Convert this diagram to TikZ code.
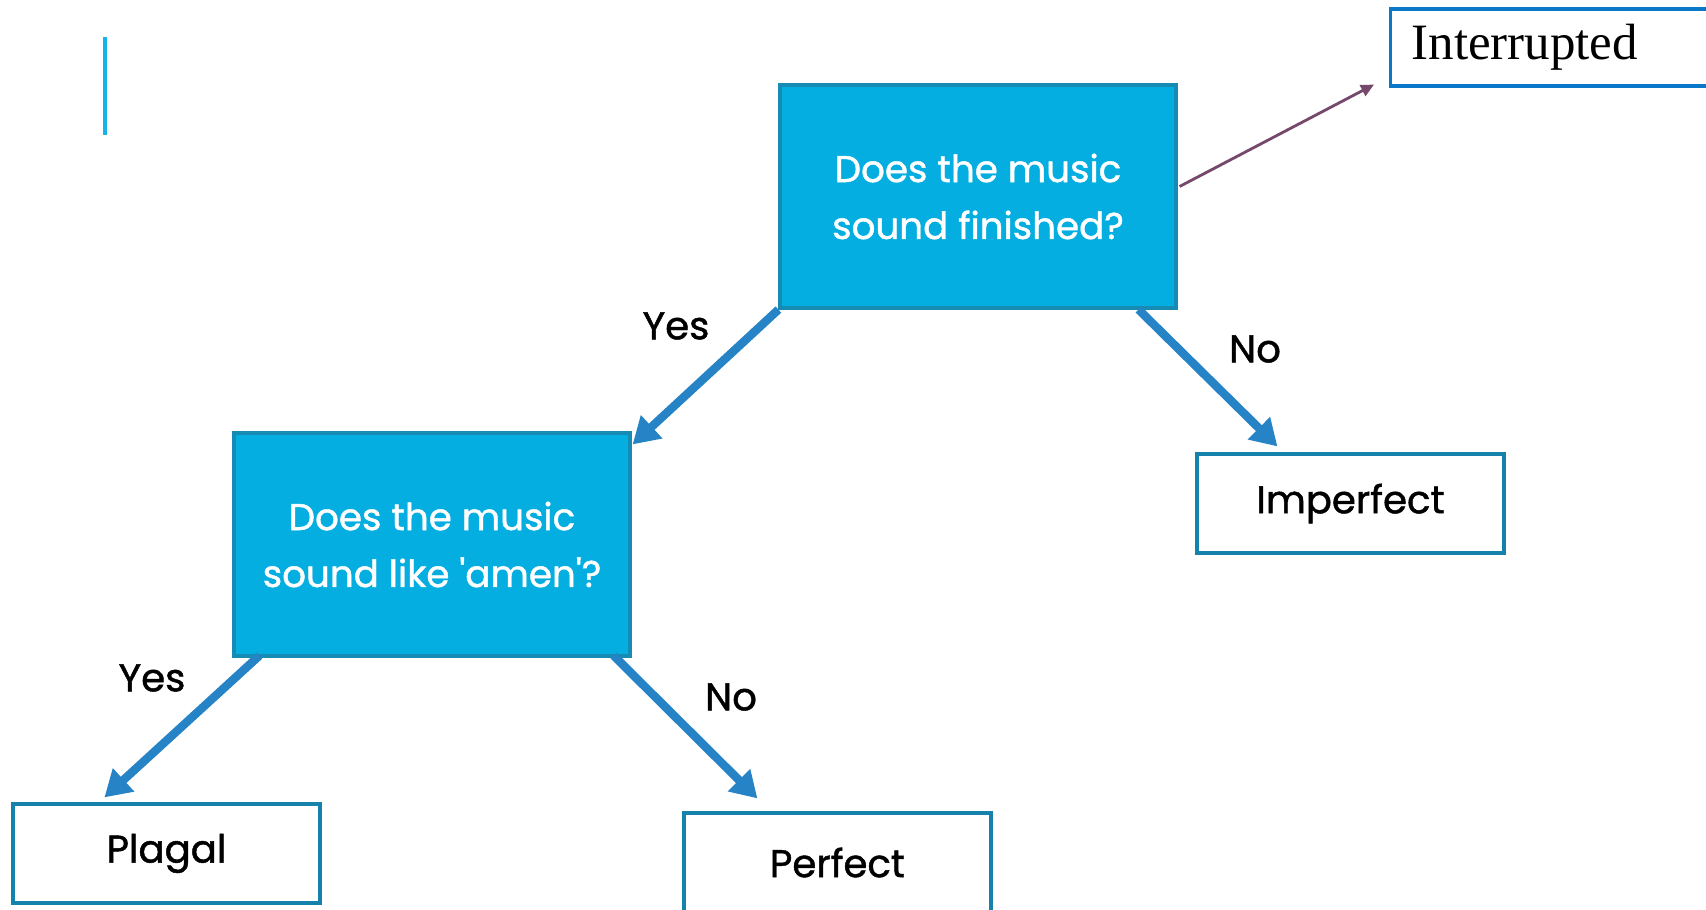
\documentclass[tikz,border=0pt]{standalone}
\usepackage{fontspec}
\setmainfont[RawFeature = {embolden=1.2}]{Poppins}
\newfontfamily\intrfont{Liberation Serif}
\usetikzlibrary{arrows.meta,calc}
\definecolor{qfill}{RGB}{4,174,224}
\definecolor{qedge}{RGB}{22,140,180}
\definecolor{arrowblue}{RGB}{38,131,198}
\definecolor{ansedge}{RGB}{20,130,170}
\definecolor{intredge}{RGB}{10,120,200}
\definecolor{intrarrow}{RGB}{118,72,108}
\definecolor{barblue}{RGB}{20,180,232}
\tikzset{
	question/.style = {draw = qedge, line width = 0.9pt, fill = qfill, text = white, align = center, minimum width = 3.96cm, minimum height = 2.23cm, font = \fontsize{10.6}{16.2}\selectfont},
	answer/.style = {draw = ansedge, line width = 0.9pt, fill = white, minimum width = 3.07cm, minimum height = 0.99cm, font = \fontsize{11}{14}\selectfont},
	choice/.style = {font = \fontsize{11}{14}\selectfont},
	bigarrow/.style = {draw = arrowblue, line width = 2.4pt, -{Triangle[length = 0.26cm, width = 0.3cm]}}
}
\begin{document}
\begin{tikzpicture}
							\useasboundingbox (0, 0) rectangle (17.06, 9.09);
							\draw[barblue, line width = 1pt] (1.05, 8.72) -- (1.05, 7.74);
							\node[question] (q1) at (9.78, 7.125) {Does the music\\sound finished?};
							\node[question] (q2) at (4.32, 3.645) {Does the music\\sound like {\textquotesingle}amen{\textquotesingle}?};
							\node[answer] (imperfect) at (13.505, 4.055) {Imperfect};
							\node[answer] (plagal) at (1.665, 0.555) {Plagal};
							\node[answer] (perfect) at (8.375, 0.465) {Perfect};
							\node[draw = intredge, line width = 0.9pt, anchor = west, minimum height = 0.77cm, inner xsep = 0.21cm, text width = 3.6cm, align = left, font = \intrfont\fontsize{14.5}{16}\selectfont] (intr) at (13.89, 8.615) {Interrupted};
							\draw[intrarrow, line width = 0.8pt, -{Triangle[length = 0.13cm, width = 0.12cm]}] ($(q1.east) + (0.02, 0.1)$) -- ($(intr.south west) + (-0.15, 0.03)$);
							\draw[bigarrow] (q1.south west) -- ($(q2.north east) + (0.01, -0.13)$);
							\draw[bigarrow] ($(q1.south east) + (-0.39, 0)$) -- ($(imperfect.north west) + (0.82, 0.06)$);
							\draw[bigarrow] ($(q2.south west) + (0.27, 0.02)$) -- ($(plagal.north west) + (0.93, 0.05)$);
							\draw[bigarrow] ($(q2.south east) + (-0.18, 0.02)$) -- ($(perfect.north west) + (0.75, 0.13)$);
							\node[choice] (yes1) at (6.76, 5.83) {Yes};
							\node[choice] (no1) at (12.55, 5.60) {No};
							\node[choice] (yes2) at (1.52, 2.31) {Yes};
							\node[choice] (no2) at (7.31, 2.12) {No};
						\end{tikzpicture}
\end{document}
